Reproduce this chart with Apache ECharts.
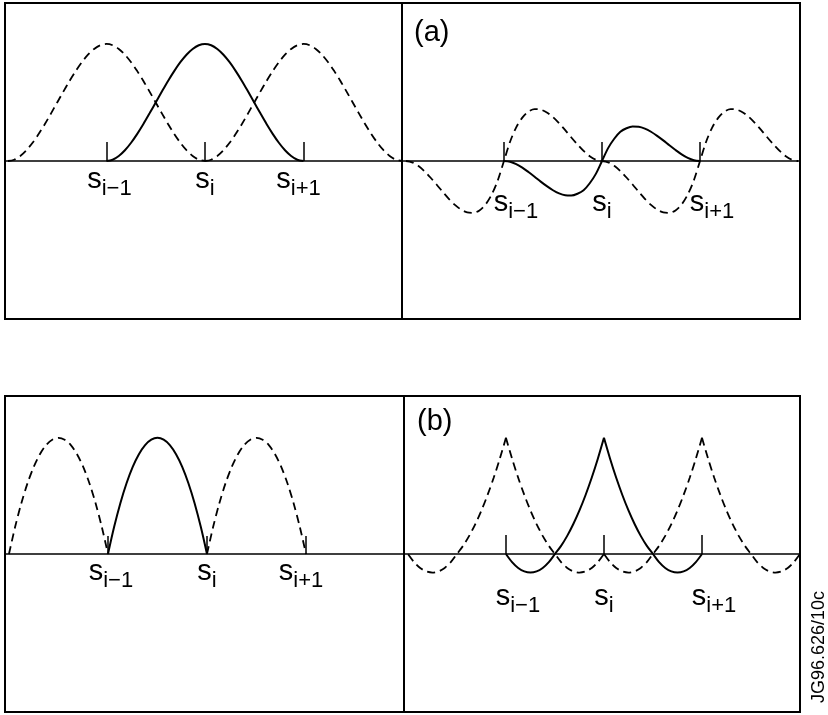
<!DOCTYPE html>
<html><head><meta charset="utf-8">
<script src="https://cdn.jsdelivr.net/npm/echarts@6/dist/echarts.min.js"></script>
<style>html,body{margin:0;padding:0;background:#fff}#c{width:828px;height:715px}</style>
</head><body><div id="c"></div>
<script>
// ---- data ----
const nodes = [-1, 0, 1];                       // s_{i-1}, s_i, s_{i+1}
const nodeSubscripts = ['i\u22121', 'i', 'i+1'];
const panelTags = ['(a)', '(b)'];
const figureId = 'JG96.626/10c';

// sample offsets from a node, over two intervals (left then right)
const fullU = [-1, -0.9375, -0.875, -0.8125, -0.75, -0.6875, -0.625, -0.5625, -0.5, -0.4375, -0.375, -0.3125, -0.25, -0.1875, -0.125, -0.0625,
  0, 0.0625, 0.125, 0.1875, 0.25, 0.3125, 0.375, 0.4375, 0.5, 0.5625, 0.625, 0.6875, 0.75, 0.8125, 0.875, 0.9375, 1];
// (a) left: value basis function (solid at s_i, dashed at s_{i-1}, s_{i+1})
const aValueShape = [0, 0.011, 0.043, 0.092, 0.156, 0.232, 0.316, 0.407, 0.5, 0.593, 0.684, 0.768, 0.844, 0.908, 0.957, 0.989,
  1, 0.989, 0.957, 0.908, 0.844, 0.768, 0.684, 0.593, 0.5, 0.407, 0.316, 0.232, 0.156, 0.092, 0.043, 0.011, 0];
// (a) right: slope basis function (solid and dashed amplitudes differ)
const aSlopeSolid = [0, -0.007, -0.027, -0.057, -0.094, -0.134, -0.176, -0.215, -0.25, -0.277, -0.293, -0.295, -0.28, -0.25, -0.19, -0.11,
  0, 0.11, 0.19, 0.25, 0.28, 0.295, 0.293, 0.277, 0.25, 0.215, 0.176, 0.134, 0.094, 0.057, 0.027, 0.007, 0];
const aSlopeDashed = [0, -0.011, -0.041, -0.086, -0.141, -0.201, -0.264, -0.323, -0.375, -0.415, -0.439, -0.443, -0.422, -0.371, -0.287, -0.165,
  0, 0.165, 0.287, 0.371, 0.422, 0.443, 0.439, 0.415, 0.375, 0.323, 0.264, 0.201, 0.141, 0.086, 0.041, 0.011, 0];
const aSolidCentres = [0];
const aDashedCentres = [-1, 1];

// sample offsets over one interval
const halfU = [0, 0.0625, 0.125, 0.1875, 0.25, 0.3125, 0.375, 0.4375, 0.5, 0.5625, 0.625, 0.6875, 0.75, 0.8125, 0.875, 0.9375, 1];
// (b) left: interior bubble on one interval (interval start points)
const bBubbleShape = [0, 0.234, 0.4375, 0.609, 0.75, 0.859, 0.9375, 0.984, 1, 0.984, 0.9375, 0.859, 0.75, 0.609, 0.4375, 0.234, 0];
const bBubbleSolidStarts = [-1];
const bBubbleDashedStarts = [-2, 0];
// (b) right: node function, one side from the node outward
const bNodeHalf = [1, 0.82, 0.656, 0.508, 0.375, 0.258, 0.156, 0.07, 0, -0.07, -0.12, -0.15, -0.16, -0.15, -0.12, -0.07, 0];
const bNodeSolidCentres = [0];
const bNodeDashedCentres = [-1, 1];

// ---- chart ----
const FONT = '"Liberation Sans", Arial, Helvetica, sans-serif';
const chart = echarts.init(document.getElementById('c'), null, {renderer: 'canvas'});

const grids = [
  {left: 5,   top: 3,   width: 397, height: 316},
  {left: 402, top: 3,   width: 398, height: 316},
  {left: 5,   top: 396, width: 399, height: 316},
  {left: 404, top: 396, width: 396, height: 316}
];
const xRanges = [[-2.03, 2.0], [-2.04, 2.02], [-2.04, 1.99], [-2.04, 2.0]];
const yRanges = [[-1.35, 1.35], [-1.35, 1.35], [-1.36, 1.36], [-1.36, 1.36]];
const axisOffsets = [-158, -158, -158, -158];
const labelMargins = [4, 27, 3, 28];
const tickLengths = [19, 19, 18, 19];

function labelFormatter(panel) {
  return function (v) {
    const k = nodes.indexOf(Math.round(v));
    const body = '{s|s}{sub|' + nodeSubscripts[k] + '}';
    if (panel === 0 || panel === 2) {
      if (k === 0) return '{g6| }' + body;
      if (k === 2) return body + '{g10| }';
      return body;
    }
    if (k === 0 || k === 2) return '{g24| }' + body;
    return body;
  };
}
const rich = {
  s: {fontSize: 29, fontFamily: FONT, color: '#000', lineHeight: 28, verticalAlign: 'top'},
  sub: {fontSize: 22, fontFamily: FONT, color: '#000', lineHeight: 21, padding: [13, 0, 0, 0], verticalAlign: 'top'},
  g6: {width: 6, lineHeight: 28, verticalAlign: 'top'},
  g10: {width: 10, lineHeight: 28, verticalAlign: 'top'},
  g24: {width: 24, lineHeight: 28, verticalAlign: 'top'}
};

const xAxes = grids.map((g, i) => ({
  type: 'value', gridIndex: i, min: xRanges[i][0], max: xRanges[i][1],
  position: 'bottom', offset: axisOffsets[i],
  axisLine: {show: true, onZero: false, lineStyle: {color: '#000', width: 1.6}},
  axisTick: {show: true, inside: true, length: tickLengths[i], customValues: nodes,
             lineStyle: {color: '#000', width: 1.5}},
  axisLabel: {show: true, customValues: nodes, margin: labelMargins[i], hideOverlap: false,
              formatter: labelFormatter(i), rich: rich, color: '#000'},
  splitLine: {show: false}
}));
const yAxes = grids.map((g, i) => ({
  type: 'value', gridIndex: i, min: yRanges[i][0], max: yRanges[i][1], show: false,
  splitLine: {show: false}
}));

const series = [];
function addLine(gi, xs, ys, dashed) {
  series.push({
    type: 'line', xAxisIndex: gi, yAxisIndex: gi, symbol: 'none', smooth: 0.3,
    data: xs.map((x, k) => [x, ys[k]]),
    lineStyle: {color: '#000', width: dashed ? 1.8 : 2, type: dashed ? [8, 5] : 'solid'},
    silent: true, animation: false
  });
}
// (a) left
aSolidCentres.forEach(c => addLine(0, fullU.map(u => c + u), aValueShape, false));
aDashedCentres.forEach(c => addLine(0, fullU.map(u => c + u), aValueShape, true));
// (a) right
aSolidCentres.forEach(c => addLine(1, fullU.map(u => c + u), aSlopeSolid, false));
aDashedCentres.forEach(c => addLine(1, fullU.map(u => c + u), aSlopeDashed, true));
// (b) left
bBubbleSolidStarts.forEach(s => addLine(2, halfU.map(u => s + u), bBubbleShape, false));
bBubbleDashedStarts.forEach(s => addLine(2, halfU.map(u => s + u), bBubbleShape, true));
// (b) right (cusp at each node: two halves)
bNodeSolidCentres.forEach(c => {
  addLine(3, halfU.map(u => c - u), bNodeHalf, false);
  addLine(3, halfU.map(u => c + u), bNodeHalf, false);
});
bNodeDashedCentres.forEach(c => {
  addLine(3, halfU.map(u => c - u), bNodeHalf, true);
  addLine(3, halfU.map(u => c + u), bNodeHalf, true);
});

chart.setOption({
  animation: false,
  backgroundColor: '#fff',
  grid: grids.map(g => Object.assign({show: true, borderColor: '#000', borderWidth: 2,
                                      backgroundColor: 'transparent', containLabel: false,
                                      outerBoundsMode: 'none'}, g)),
  xAxis: xAxes,
  yAxis: yAxes,
  series: series,
  graphic: [
    {type: 'text', x: 414, y: 33, style: {text: panelTags[0], font: '29px ' + FONT, fill: '#000',
      textAlign: 'left', textVerticalAlign: 'middle'}},
    {type: 'text', x: 417, y: 422, style: {text: panelTags[1], font: '29px ' + FONT, fill: '#000',
      textAlign: 'left', textVerticalAlign: 'middle'}},
    {type: 'text', x: 819, y: 647, rotation: Math.PI / 2,
      style: {text: figureId, font: '18px ' + FONT, fill: '#000', textAlign: 'center', textVerticalAlign: 'middle'}}
  ]
});
</script></body></html>
